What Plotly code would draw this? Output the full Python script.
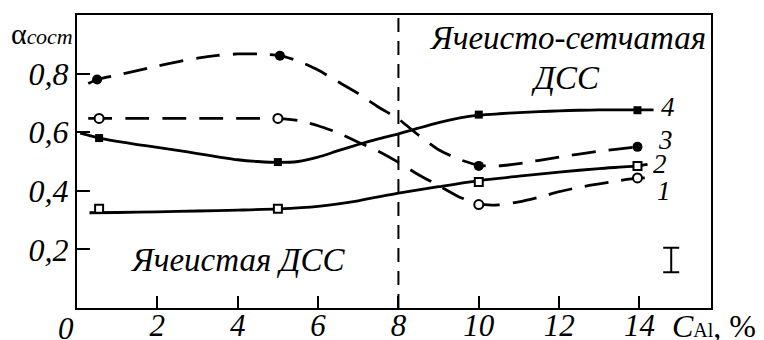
import plotly.graph_objects as go

# measured points (markers)
x1 = [0.55, 5.0, 10.0, 13.95]; y1 = [0.647, 0.647, 0.353, 0.444]
x2 = [0.55, 5.0, 10.0, 13.95]; y2 = [0.339, 0.339, 0.430, 0.485]
x3 = [0.50, 5.05, 10.0, 13.95]; y3 = [0.780, 0.861, 0.485, 0.550]
x4 = [0.55, 5.0, 10.0, 13.95]; y4 = [0.580, 0.498, 0.660, 0.675]

# drawn curve paths
c1x = [0.28, 0.6, 1.5, 2.5, 3.5, 4.5, 5.0, 5.5, 6.0, 6.5, 7.0, 7.5, 8.0, 8.5, 9.0, 9.5, 10.0, 10.5, 11.0, 11.5, 12.0, 12.5, 13.0, 13.5, 13.95, 14.25]
c1y = [0.647, 0.647, 0.647, 0.647, 0.647, 0.647, 0.646, 0.640, 0.622, 0.598, 0.566, 0.535, 0.497, 0.455, 0.418, 0.380, 0.355, 0.352, 0.362, 0.378, 0.397, 0.412, 0.424, 0.435, 0.443, 0.445]
c2x = [0.31, 1.0, 2.0, 3.0, 4.0, 5.0, 6.0, 7.0, 8.0, 9.0, 10.0, 11.0, 12.0, 13.0, 13.95, 14.2]
c2y = [0.325, 0.326, 0.328, 0.331, 0.334, 0.338, 0.347, 0.366, 0.392, 0.414, 0.435, 0.450, 0.464, 0.476, 0.485, 0.490]
c3x = [0.28, 0.5, 1.0, 1.5, 2.0, 2.5, 3.0, 3.5, 4.0, 4.5, 5.05, 5.5, 6.0, 6.5, 7.0, 7.5, 8.0, 8.5, 9.0, 9.5, 10.0, 10.5, 11.0, 12.0, 13.0, 13.95, 14.15]
c3y = [0.766, 0.780, 0.795, 0.810, 0.826, 0.840, 0.853, 0.862, 0.867, 0.867, 0.861, 0.843, 0.812, 0.772, 0.732, 0.686, 0.645, 0.590, 0.540, 0.508, 0.487, 0.485, 0.493, 0.515, 0.535, 0.550, 0.552]
c4x = [0.08, 0.55, 1.0, 1.5, 2.0, 2.5, 3.0, 3.5, 4.0, 4.5, 5.0, 5.5, 6.0, 6.5, 7.0, 7.5, 8.0, 8.5, 9.0, 9.5, 10.0, 10.5, 11.0, 11.5, 12.0, 12.5, 13.0, 14.0, 14.35]
c4y = [0.597, 0.580, 0.569, 0.558, 0.548, 0.538, 0.527, 0.516, 0.506, 0.500, 0.497, 0.500, 0.515, 0.537, 0.558, 0.577, 0.594, 0.614, 0.633, 0.648, 0.658, 0.663, 0.667, 0.670, 0.673, 0.675, 0.676, 0.676, 0.676]

# error bar symbol
err_x = [14.79]; err_y = [0.164]; err_v = [0.042]

x_ticks = [2, 4, 6, 8, 10, 12, 14]
x_ticktext = ["2", "4", "6", "8", "10", "12", "14"]
y_ticks = [0.2, 0.4, 0.6, 0.8]
y_ticktext = ["0,2", "0,4", "0,6", "0,8"]
boundary_x = 8

FONT = "Liberation Serif"
fig = go.Figure()

def curve(x, y, dash):
    fig.add_trace(go.Scatter(x=x, y=y, mode="lines", line=dict(color="black", width=2.8, dash=dash, shape="spline", smoothing=0.6), hoverinfo="skip"))

dash = "24px,13px"
curve(c1x, c1y, dash)
curve(c2x, c2y, "solid")
curve(c3x, c3y, dash)
curve(c4x, c4y, "solid")

fig.add_trace(go.Scatter(x=x1, y=y1, mode="markers", marker=dict(symbol="circle", size=9, color="white", line=dict(color="black", width=2))))
fig.add_trace(go.Scatter(x=x2, y=y2, mode="markers", marker=dict(symbol="square", size=8, color="white", line=dict(color="black", width=2))))
fig.add_trace(go.Scatter(x=x3, y=y3, mode="markers", marker=dict(symbol="circle", size=10, color="black")))
fig.add_trace(go.Scatter(x=x4, y=y4, mode="markers", marker=dict(symbol="square", size=8, color="black")))

fig.add_trace(go.Scatter(x=err_x, y=err_y, mode="markers", marker=dict(size=1, color="rgba(0,0,0,0)"),
                         error_y=dict(type="data", array=err_v, visible=True, color="black", thickness=2, width=8)))

fig.add_shape(type="line", x0=boundary_x, x1=boundary_x, y0=0, y1=1.0, xref="x", yref="y",
              line=dict(color="black", width=2, dash="14px,9px"))

ann = dict(showarrow=False, font=dict(family=FONT, size=33, color="black"))
lab = dict(showarrow=False, font=dict(family=FONT, size=27, color="black"))
fig.add_annotation(x=4.01, y=0.165, text="<i>Ячеистая ДСС</i>", **ann)
fig.add_annotation(x=12.2, y=0.92, text="<i>Ячеисто-сетчатая</i>", **ann)
fig.add_annotation(x=12.15, y=0.785, text="<i>ДСС</i>", **ann)
for t, xx, yy in [("4", 14.71, 0.685), ("3", 14.64, 0.575), ("2", 14.51, 0.49), ("1", 14.61, 0.40)]:
    fig.add_annotation(x=xx, y=yy, text="<i>" + t + "</i>", **lab)
fig.add_annotation(x=0, y=0, xref="x", yref="y", xanchor="center", yanchor="middle", xshift=-11, yshift=-20,
                   text="<i>0</i>", showarrow=False, font=dict(family=FONT, size=31, color="black"))
fig.add_annotation(x=-0.055, y=1.0, xref="paper", yref="paper", xanchor="center", yanchor="top",
                   text="α<i><span style='font-size:22px'>сост</span></i>",
                   showarrow=False, font=dict(family=FONT, size=30, color="black"))
fig.add_annotation(x=0.935, y=-0.063, xref="paper", yref="paper", xanchor="left", yanchor="middle",
                   text="<i>C</i><span style='font-size:20px'>Al</span>, %",
                   showarrow=False, font=dict(family=FONT, size=32, color="black"))

fig.update_xaxes(range=[0, 15.78], tickvals=x_ticks, ticktext=x_ticktext, ticks="inside", ticklen=12, tickwidth=2,
                 tickcolor="black", showline=True, linewidth=2, linecolor="black", mirror=True, showgrid=False,
                 zeroline=False, automargin=False, ticklabelstandoff=-11,
                 tickfont=dict(family=FONT, size=31, color="black", style="italic"))
fig.update_yaxes(range=[0, 1.0], tickvals=y_ticks, ticktext=y_ticktext, ticks="inside", ticklen=13, tickwidth=2,
                 tickcolor="black", showline=True, linewidth=2, linecolor="black", mirror=True, showgrid=False,
                 zeroline=False, automargin=False,
                 tickfont=dict(family=FONT, size=32, color="black", style="italic"))
fig.update_layout(width=764, height=340, margin=dict(l=77, r=53, t=15, b=32), showlegend=False,
                  plot_bgcolor="white", paper_bgcolor="white")
fig.write_html("out.html")
